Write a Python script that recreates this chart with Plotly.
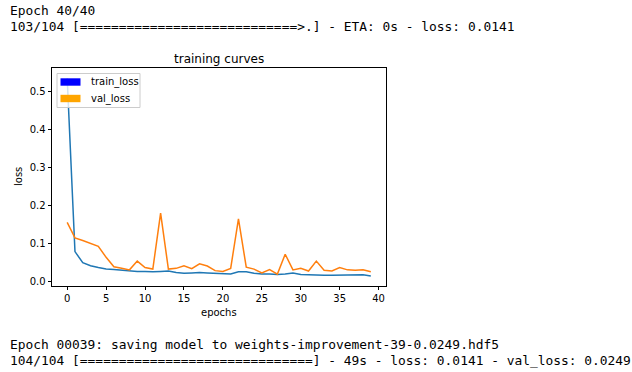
import plotly.graph_objects as go

epochs = list(range(40))
train_loss = [0.534, 0.078, 0.049, 0.041, 0.036, 0.032, 0.031, 0.029, 0.027, 0.026,
              0.026, 0.025, 0.026, 0.027, 0.023, 0.021, 0.022, 0.023, 0.022, 0.021,
              0.019, 0.019, 0.025, 0.025, 0.021, 0.019, 0.019, 0.018, 0.019, 0.022,
              0.018, 0.017, 0.017, 0.016, 0.016, 0.016, 0.016, 0.016, 0.017, 0.0141]
val_loss = [0.155, 0.114, 0.107, 0.100, 0.092, 0.063, 0.038, 0.034, 0.030, 0.053,
            0.036, 0.032, 0.179, 0.032, 0.034, 0.041, 0.033, 0.046, 0.040, 0.028,
            0.026, 0.034, 0.164, 0.037, 0.032, 0.022, 0.031, 0.019, 0.071, 0.030,
            0.034, 0.027, 0.053, 0.029, 0.027, 0.036, 0.030, 0.029, 0.030, 0.0249]
x_ticks = [0, 5, 10, 15, 20, 25, 30, 35, 40]
y_ticks = [0.0, 0.1, 0.2, 0.3, 0.4, 0.5]
console_top = ["Epoch 40/40",
               "103/104 [" + "=" * 28 + ">.] - ETA: 0s - loss: 0.0141"]
console_bottom = ["Epoch 00039: saving model to weights-improvement-39-0.0249.hdf5",
                  "104/104 [" + "=" * 30 + "] - 49s - loss: 0.0141 - val_loss: 0.0249"]

W, H = 632, 372
ML, MR, MT, MB = 52, 246, 68, 86
PW, PH = W - ML - MR, H - MT - MB


def px(x):
    return (x - ML) / PW


def py(y):
    return (H - MB - y) / PH


fig = go.Figure()
fig.add_trace(go.Scatter(x=epochs, y=train_loss, mode="lines", name="train_loss",
                         line=dict(color="#1f77b4", width=1.5), showlegend=False))
fig.add_trace(go.Scatter(x=epochs, y=val_loss, mode="lines", name="val_loss",
                         line=dict(color="#ff7f0e", width=1.5), showlegend=False))

axis_common = dict(showgrid=False, zeroline=False, showline=True, mirror=True,
                   linecolor="black", linewidth=0.8, ticks="outside", ticklen=3.5,
                   tickwidth=0.8, tickcolor="black",
                   tickfont=dict(family="DejaVu Sans", size=10, color="black"))
fig.update_xaxes(range=[-1.95, 40.95], tickvals=x_ticks,
                 ticktext=[str(v) for v in x_ticks], **axis_common)
fig.update_yaxes(range=[-0.0124, 0.5605], tickvals=y_ticks,
                 ticktext=[f"{v:.1f}" for v in y_ticks], **axis_common)

shapes = []
annotations = []
# legend
shapes.append(dict(type="rect", xref="paper", yref="paper",
                   x0=px(57), x1=px(140), y0=py(107.5), y1=py(73.5),
                   fillcolor="rgba(255,255,255,0.8)", line=dict(color="#cccccc", width=1),
                   layer="above"))
legend_items = [("train_loss", "blue", 82), ("val_loss", "orange", 98.5)]
for label, color, cy in legend_items:
    shapes.append(dict(type="rect", xref="paper", yref="paper",
                       x0=px(60.5), x1=px(80.5), y0=py(cy + 3.7), y1=py(cy - 3.7),
                       fillcolor=color, line=dict(width=0), layer="above"))
    annotations.append(dict(text=label, xref="paper", yref="paper", x=px(88.5), y=py(cy),
                            xanchor="left", yanchor="middle", showarrow=False,
                            font=dict(family="DejaVu Sans", size=10, color="black")))

# axis titles
annotations.append(dict(text="epochs", xref="paper", yref="paper", x=px(218.5), y=py(312),
                        xanchor="center", yanchor="middle", showarrow=False,
                        font=dict(family="DejaVu Sans", size=10, color="black")))
annotations.append(dict(text="loss", xref="paper", yref="paper", x=px(18), y=py(177),
                        xanchor="center", yanchor="middle", showarrow=False, textangle=-90,
                        font=dict(family="DejaVu Sans", size=10, color="black")))
# title
annotations.append(dict(text="training curves", xref="paper", yref="paper", x=px(218.5), y=py(59),
                        xanchor="center", yanchor="middle", showarrow=False,
                        font=dict(family="DejaVu Sans", size=12, color="black")))

# console output
mono = dict(family="DejaVu Sans Mono", size=12.9, color="black")
for i, line in enumerate(console_top):
    annotations.append(dict(text=line, xref="paper", yref="paper", x=px(8), y=py(10 + 16 * i),
                            xanchor="left", yanchor="middle", showarrow=False, font=mono))
for i, line in enumerate(console_bottom):
    annotations.append(dict(text=line, xref="paper", yref="paper", x=px(8), y=py(344 + 16 * i),
                            xanchor="left", yanchor="middle", showarrow=False, font=mono))

fig.update_layout(width=W, height=H, margin=dict(l=ML, r=MR, t=MT, b=MB),
                  paper_bgcolor="white", plot_bgcolor="white",
                  shapes=shapes, annotations=annotations, showlegend=False)
fig.write_html("out.html", config={"displayModeBar": False},
               post_script="document.body.style.margin='0';document.body.style.padding='0';")
